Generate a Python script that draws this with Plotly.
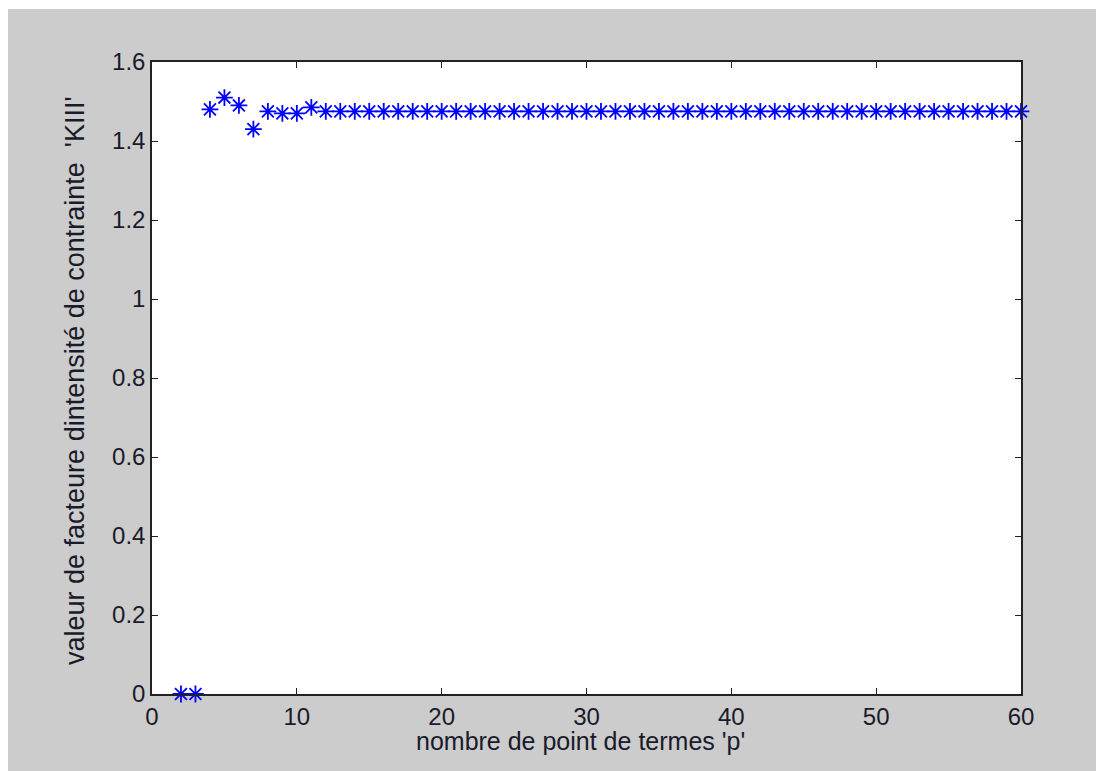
import plotly.graph_objects as go

p_values = list(range(2, 61))
kiii_values = [0.0, 0.0, 1.48, 1.51, 1.49, 1.43, 1.475, 1.47, 1.47, 1.485] + [1.475] * 49

x_ticks = [0, 10, 20, 30, 40, 50, 60]
y_ticks = [0, 0.2, 0.4, 0.6, 0.8, 1.0, 1.2, 1.4, 1.6]
y_tick_text = ["0", "0.2", "0.4", "0.6", "0.8", "1", "1.2", "1.4", "1.6"]
x_title = "nombre de point de termes 'p'"
y_title = "valeur de facteure dintensité de contrainte  'KIII'"

W, H = 1096, 771
L, R, T, B = 152, 75, 62, 77
pw, ph = W - L - R, H - T - B


def px_x(px):
    return (px - L) / pw


def px_y(py):
    return (H - B - py) / ph


fig = go.Figure()
fig.add_trace(go.Scatter(
    x=p_values, y=kiii_values, mode="markers",
    marker=dict(symbol="asterisk-open", size=14, color="#0000ff",
                line=dict(color="#0000ff", width=1.8)),
    cliponaxis=False, showlegend=False,
))

fam = "Liberation Sans, Arial, sans-serif"
txt_color = "#1a1a2a"
tick_font = dict(family=fam, size=24, color=txt_color)
axis_common = dict(
    showgrid=False, zeroline=False, showline=True, linecolor="#222222", linewidth=1.5,
    mirror="ticks", ticks="inside", ticklen=6, tickcolor="#222222", tickwidth=1.2,
    tickfont=tick_font,
)
fig.update_layout(
    width=W, height=H,
    margin=dict(l=L, r=R, t=T, b=B),
    paper_bgcolor="#cccccc", plot_bgcolor="#ffffff",
    xaxis=dict(range=[0, 60], tickvals=x_ticks, **axis_common),
    yaxis=dict(range=[0, 1.6], tickvals=y_ticks, ticktext=y_tick_text, **axis_common),
    annotations=[
        dict(text=x_title, xref="paper", yref="paper", x=px_x(580), y=px_y(741),
             xanchor="center", yanchor="middle", showarrow=False,
             font=dict(family=fam, size=25, color=txt_color)),
        dict(text=y_title, xref="paper", yref="paper", x=px_x(75), y=px_y(381),
             xanchor="center", yanchor="middle", showarrow=False, textangle=-90,
             font=dict(family=fam, size=27, color=txt_color)),
    ],
    shapes=[
        dict(type="rect", xref="paper", yref="paper", layer="below",
             x0=-L / pw - 0.02, x1=(8 - L) / pw, y0=-B / ph - 0.02, y1=(ph + T) / ph + 0.02,
             fillcolor="#ffffff", line=dict(width=0)),
        dict(type="rect", xref="paper", yref="paper", layer="below",
             x0=-L / pw - 0.02, x1=(W - L) / pw + 0.02, y0=(ph + T - 9) / ph, y1=(ph + T) / ph + 0.02,
             fillcolor="#ffffff", line=dict(width=0)),
    ],
)
fig.write_html("out.html")
